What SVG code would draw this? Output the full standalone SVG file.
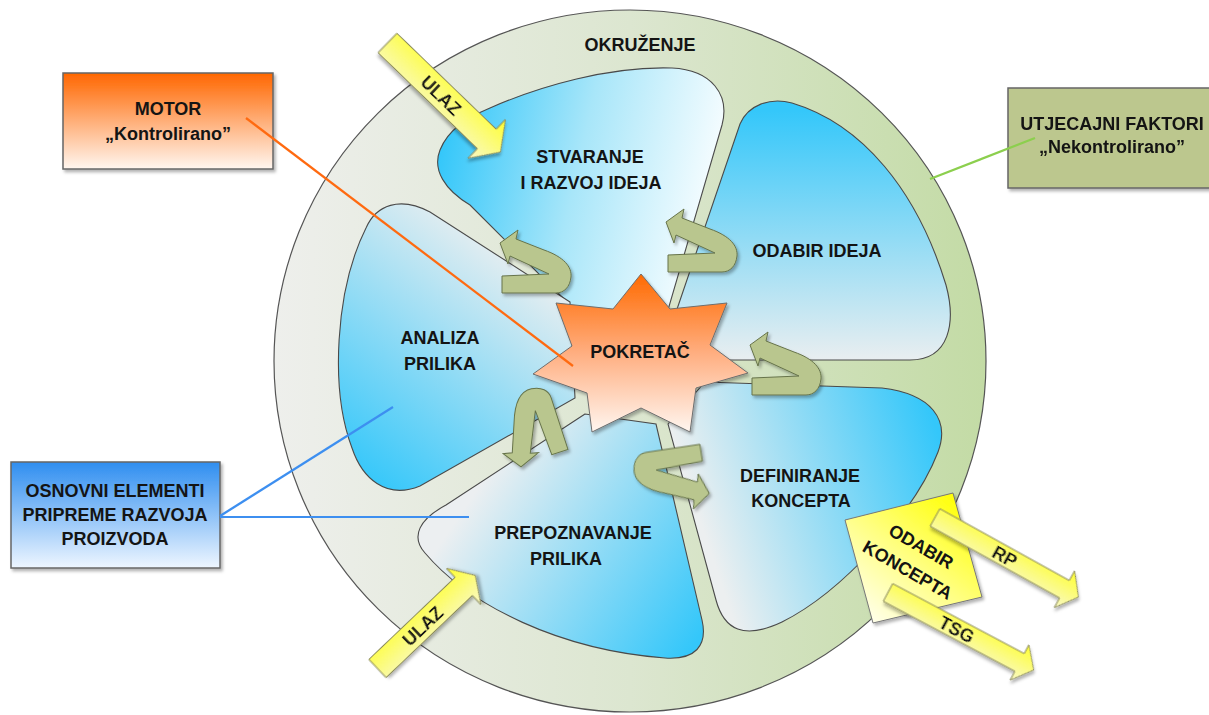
<svg xmlns="http://www.w3.org/2000/svg" width="1209" height="715" viewBox="0 0 1209 715">
<style>
.t{font-family:"Liberation Sans",Arial,sans-serif;font-weight:bold;font-size:18px;fill:#141414;text-anchor:middle}
.lobe{stroke:#4a4a4a;stroke-width:1.1}
.uarr{fill:#b9c68e;stroke:#66734a;stroke-width:1}
.yarr{fill:url(#gY);stroke:#8a8a5a;stroke-width:1}
.box{stroke:#666;stroke-width:1.5}
.ln{stroke-width:2.2;fill:none}
</style>
<defs>
<filter id="sh" x="-20%" y="-20%" width="150%" height="150%"><feDropShadow dx="2" dy="2.5" stdDeviation="1.6" flood-color="#000" flood-opacity="0.3"/></filter>
<linearGradient id="gRing" gradientUnits="userSpaceOnUse" x1="274" y1="0" x2="986" y2="0"><stop offset="0" stop-color="#eeefec"/><stop offset="0.5" stop-color="#dce6d0"/><stop offset="1" stop-color="#c3dba5"/></linearGradient>
<linearGradient id="gL1" gradientUnits="userSpaceOnUse" x1="440" y1="150" x2="710" y2="210"><stop offset="0" stop-color="#34c7fa"/><stop offset="0.5" stop-color="#a8e6f9"/><stop offset="1" stop-color="#f7fdff"/></linearGradient>
<linearGradient id="gL2" gradientUnits="userSpaceOnUse" x1="0" y1="110" x2="0" y2="360"><stop offset="0" stop-color="#34c7fa"/><stop offset="1" stop-color="#e9eef0"/></linearGradient>
<linearGradient id="gL3" gradientUnits="userSpaceOnUse" x1="700" y1="520" x2="940" y2="440"><stop offset="0" stop-color="#eceff0"/><stop offset="1" stop-color="#34c7fa"/></linearGradient>
<linearGradient id="gL4" gradientUnits="userSpaceOnUse" x1="470" y1="500" x2="690" y2="650"><stop offset="0" stop-color="#eceff1"/><stop offset="1" stop-color="#34c7fa"/></linearGradient>
<linearGradient id="gL5" gradientUnits="userSpaceOnUse" x1="520" y1="250" x2="350" y2="470"><stop offset="0" stop-color="#eceff0"/><stop offset="1" stop-color="#34c7fa"/></linearGradient>
<linearGradient id="gStar" x1="0" y1="0" x2="0" y2="1"><stop offset="0" stop-color="#ff6a00"/><stop offset="0.5" stop-color="#ffae80"/><stop offset="1" stop-color="#fff6f0"/></linearGradient>
<linearGradient id="gMotor" x1="0" y1="0" x2="0" y2="1"><stop offset="0" stop-color="#ff6600"/><stop offset="1" stop-color="#fff6f0"/></linearGradient>
<linearGradient id="gOsn" x1="0" y1="0" x2="0" y2="1"><stop offset="0" stop-color="#2f8ef0"/><stop offset="1" stop-color="#eef6ff"/></linearGradient>
<linearGradient id="gY" x1="0" y1="0" x2="0" y2="1"><stop offset="0" stop-color="#ffff30"/><stop offset="1" stop-color="#f8f8c8"/></linearGradient>
<linearGradient id="gBox" gradientUnits="userSpaceOnUse" x1="960" y1="495" x2="860" y2="620"><stop offset="0" stop-color="#ffff00"/><stop offset="0.5" stop-color="#ffff80"/><stop offset="1" stop-color="#fffff2"/></linearGradient>
<path id="U" d="M6,22 L24,9 L22,18 L50,29 C70,36 78,46 77,56 C76,66 70,72 62,72 L8,72 L8,55 L55,53 L16,35 L14,43 Z"/>
</defs>

<g id="okruzenje">
<ellipse cx="630" cy="361" rx="356" ry="351" fill="url(#gRing)" stroke="#555" stroke-width="1.2"/>
<text class="t" x="640" y="51" font-size="17">OKRUŽENJE</text>
</g>

<g id="lobe-stvaranje">
<path class="lobe" fill="url(#gL1)" d="M575,310 L470,205 C445,190 432,170 440,150 C448,130 466,118 490,108 C540,86 610,66 672,68 C712,70 730,95 722,125 L668,310 Z"/>
<text class="t" x="590" y="163">STVARANJE</text>
<text class="t" x="591" y="189">I RAZVOJ IDEJA</text>
</g>
<g id="lobe-odabir-ideja">
<path class="lobe" fill="url(#gL2)" d="M674,318 L740,124 C748,105 770,97 792,103 C862,124 917,190 946,285 C956,322 950,360 910,360 L700,360 Z"/>
<text class="t" x="817" y="257">ODABIR IDEJA</text>
</g>
<g id="lobe-definiranje">
<path class="lobe" fill="url(#gL3)" d="M668,424 L705,382 L882,388 C932,394 950,420 938,452 C915,512 842,592 782,622 C744,640 724,630 716,600 Z"/>
<text class="t" x="800" y="482">DEFINIRANJE</text>
<text class="t" x="801" y="507">KONCEPTA</text>
</g>
<g id="lobe-prepoznavanje">
<path class="lobe" fill="url(#gL4)" d="M585,414 L446,505 C420,519 410,536 425,553 C470,606 560,650 665,658 C695,660 708,646 702,620 L656,424 Z"/>
<text class="t" x="573" y="539">PREPOZNAVANJE</text>
<text class="t" x="566" y="565">PRILIKA</text>
</g>
<g id="lobe-analiza">
<path class="lobe" fill="url(#gL5)" d="M570,302 L430,212 C400,196 376,205 366,228 C335,290 330,390 352,448 C362,478 386,500 420,486 L575,398 Z"/>
<text class="t" x="440" y="344">ANALIZA</text>
<text class="t" x="440" y="370">PRILIKA</text>
</g>

<g id="pokretac">
<polygon filter="url(#sh)" fill="url(#gStar)" stroke="#6e6e6e" stroke-width="1" points="641,274 670,309 727,303 710,345 748,373 696,388 690,432 641,408 592,432 587,393 533,374 572,346 556,303 613,309"/>
<text class="t" x="640" y="358">POKRETAČ</text>
</g>

<g id="u-arrows" filter="url(#sh)">
<use href="#U" class="uarr" transform="translate(494,221)"/>
<use href="#U" class="uarr" transform="translate(660,200)"/>
<use href="#U" class="uarr" transform="translate(744,323)"/>
<use href="#U" class="uarr" transform="translate(527,427) rotate(-108) translate(-42,-40)"/>
<use href="#U" class="uarr" transform="translate(671,481) rotate(171.5) translate(-42,-40)"/>
</g>

<g id="ulaz-top" filter="url(#sh)" transform="translate(387.5,43) rotate(44)">
<polygon class="yarr" points="0,-13.5 138,-13.5 138,-27 157,0 138,27 138,13.5 0,13.5"/>
<text class="t" x="75" y="6.5">ULAZ</text>
</g>
<g id="ulaz-bottom" filter="url(#sh)" transform="translate(377.5,668.5) rotate(-43.6)">
<polygon class="yarr" points="0,-12.5 119,-12.5 119,-25 135,0 119,25 119,12.5 0,12.5"/>
<text class="t" x="62" y="6.5">ULAZ</text>
</g>

<g id="odabir-koncepta">
<polygon filter="url(#sh)" fill="url(#gBox)" stroke="#777" stroke-width="1" points="845,520 953,493 982,597 873,623"/>
<g transform="translate(914,559) rotate(30)">
<text class="t" x="0" y="-8" font-size="17">ODABIR</text>
<text class="t" x="0" y="19" font-size="17">KONCEPTA</text>
</g>
</g>
<g id="rp" filter="url(#sh)" transform="translate(935,517.5) rotate(29)">
<polygon class="yarr" points="0,-10 148,-10 148,-21 164,0 148,21 148,10 0,10"/>
<text class="t" x="80" y="6.5">RP</text>
</g>
<g id="tsg" filter="url(#sh)" transform="translate(888,592.5) rotate(28)">
<polygon class="yarr" points="0,-10 149,-10 149,-20 165,0 149,20 149,10 0,10"/>
<text class="t" x="78" y="6.5">TSG</text>
</g>

<g id="motor">
<rect class="box" filter="url(#sh)" x="63" y="73" width="210" height="96" fill="url(#gMotor)"/>
<text class="t" x="168" y="115">MOTOR</text>
<text class="t" x="168" y="140">„Kontrolirano”</text>
</g>
<g id="osnovni">
<rect class="box" filter="url(#sh)" x="11" y="462" width="209" height="106" fill="url(#gOsn)"/>
<text class="t" x="115" y="497">OSNOVNI ELEMENTI</text>
<text class="t" x="115" y="521">PRIPREME RAZVOJA</text>
<text class="t" x="115" y="545">PROIZVODA</text>
</g>
<g id="utjecajni">
<rect class="box" filter="url(#sh)" x="1008" y="88" width="210" height="100" fill="#bcc78e"/>
<text class="t" x="1112" y="130">UTJECAJNI FAKTORI</text>
<text class="t" x="1112" y="153">„Nekontrolirano”</text>
</g>

<g id="connectors">
<line class="ln" stroke="#ff6a10" x1="246" y1="118" x2="573" y2="366"/>
<line class="ln" stroke="#3d8ff0" x1="220" y1="516" x2="393" y2="407"/>
<line class="ln" stroke="#3d8ff0" x1="220" y1="517" x2="469" y2="517"/>
<line class="ln" stroke="#8ccf4e" x1="930" y1="179" x2="1035" y2="138"/>
</g>
</svg>
